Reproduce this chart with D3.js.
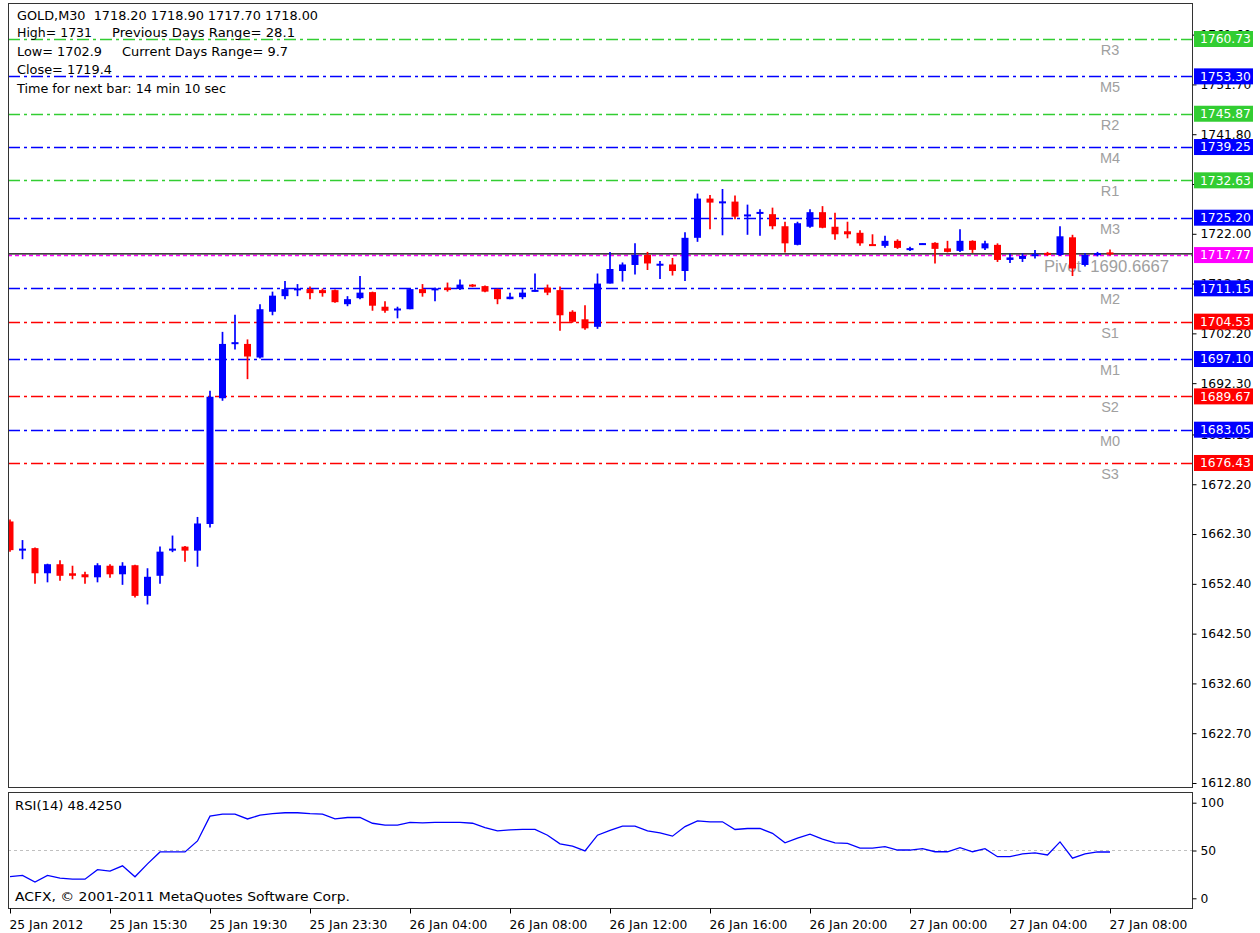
<!DOCTYPE html>
<html><head><meta charset="utf-8">
<script src="https://cdn.jsdelivr.net/npm/d3@7"></script>
<style>
body{margin:0;background:#fff;}
svg{display:block;}
</style>
</head><body>
<svg id="chart" width="1260" height="933"></svg>
<script>
// ---------- DATA ----------
const barOpen  = [1664.8,1659.0,1659.5,1654.5,1656.3,1654.5,1654.3,1653.7,1656.0,1654.3,
                  1656.1,1650.0,1654.0,1659.0,1659.8,1659.0,1664.3,1689.3,1700.1,1700.1,
                  1697.4,1706.5,1709.6,1710.9,1711.0,1710.8,1710.8,1708.0,1709.2,1710.4,
                  1707.5,1706.9,1707.0,1711.0,1710.9,1711.3,1711.0,1711.9,1711.6,1711.0,
                  1709.0,1709.4,1710.6,1711.3,1710.8,1706.5,1705.0,1703.5,1712.1,1714.6,
                  1715.8,1717.8,1715.8,1715.9,1714.6,1721.2,1729.0,1728.2,1728.4,1725.6,
                  1726.1,1725.9,1723.5,1719.8,1723.4,1726.3,1723.4,1722.5,1722.2,1719.9,
                  1719.6,1720.6,1718.9,1719.9,1720.2,1719.1,1718.6,1720.6,1719.1,1719.8,
                  1716.8,1717.0,1717.7,1718.2,1717.8,1721.3,1715.8,1717.9,1718.2];
const barHigh  = [1665.2,1661.1,1659.6,1656.4,1657.1,1656.0,1654.8,1656.5,1656.3,1656.7,
                  1656.2,1655.5,1659.8,1662.0,1659.9,1665.7,1690.8,1702.5,1705.9,1701.0,
                  1708.0,1710.5,1712.6,1712.0,1711.5,1711.1,1710.9,1709.6,1713.6,1710.5,
                  1708.6,1707.5,1711.0,1712.0,1711.3,1712.3,1712.9,1712.0,1711.7,1711.1,
                  1710.3,1711.0,1714.1,1711.9,1711.5,1706.8,1707.8,1714.1,1718.4,1716.3,
                  1720.1,1718.4,1716.6,1717.2,1722.3,1730.0,1729.7,1730.9,1729.6,1727.8,
                  1726.9,1727.2,1724.4,1724.4,1726.9,1727.5,1726.2,1724.4,1722.7,1721.9,
                  1721.6,1720.9,1719.4,1720.1,1720.3,1720.6,1722.9,1720.7,1720.6,1720.1,
                  1718.1,1718.1,1718.8,1718.4,1723.5,1721.8,1718.2,1718.4,1718.9];
const barLow   = [1658.8,1657.3,1652.4,1652.7,1653.0,1653.3,1652.4,1652.7,1653.6,1652.2,
                  1649.7,1648.3,1652.4,1658.7,1656.8,1655.8,1663.6,1688.8,1699.0,1693.1,
                  1697.2,1705.8,1709.0,1709.6,1709.0,1709.5,1708.3,1707.6,1709.0,1706.7,
                  1706.3,1705.2,1707.0,1709.5,1708.6,1710.5,1710.8,1711.4,1710.4,1708.0,
                  1709.0,1709.0,1710.5,1709.8,1702.7,1704.3,1702.9,1703.1,1712.1,1712.5,
                  1713.9,1714.8,1713.0,1713.7,1712.6,1720.4,1722.9,1721.7,1724.9,1721.8,
                  1721.6,1722.9,1718.3,1719.7,1723.2,1723.1,1720.8,1721.1,1719.6,1719.6,
                  1719.2,1719.0,1718.6,1719.9,1716.1,1718.3,1718.4,1718.2,1718.8,1716.4,
                  1716.2,1716.4,1717.1,1717.6,1717.6,1713.6,1715.5,1717.5,1717.7];
const barClose = [1659.1,1659.4,1654.5,1656.3,1654.0,1654.0,1653.7,1656.1,1654.3,1656.0,
                  1650.0,1653.8,1658.8,1659.4,1659.0,1664.4,1689.6,1700.1,1700.4,1697.6,
                  1707.0,1709.7,1711.0,1711.0,1710.2,1710.2,1708.4,1709.0,1710.3,1707.7,
                  1706.7,1707.0,1711.0,1710.2,1711.0,1710.8,1711.9,1711.5,1710.5,1709.0,
                  1709.5,1710.3,1710.7,1710.3,1705.8,1704.5,1703.2,1712.1,1715.0,1715.9,
                  1717.8,1716.1,1715.9,1714.6,1721.2,1729.0,1728.2,1728.3,1725.4,1725.7,
                  1726.2,1723.5,1720.1,1724.1,1726.3,1723.2,1721.9,1721.9,1720.1,1719.6,
                  1720.6,1719.2,1719.0,1720.0,1719.0,1718.4,1720.6,1718.8,1720.1,1716.8,
                  1717.3,1717.6,1717.8,1717.8,1721.5,1715.1,1717.8,1718.0,1718.0];
const rsiValues = [22.6,24,17,24,21,20,20,30,28.5,34,
                   22.5,36,48.5,48.5,48.5,60,86,88,88,83,
                   87,88.5,89.5,89.5,88.5,88,83,84.5,84.5,78.5,
                   76.5,76.5,79.5,79,79.5,79.5,79.5,78.5,74,70.5,
                   71.5,72,72,66,57,54.5,49.5,66,71,75.5,
                   75.5,70.5,68.5,65,75,81,80,80,72,73,
                   73,68,58,63,67,62,58,57.5,52.5,52.5,
                   54,50.5,50.5,52,48.7,48.7,53,48.7,52,43.5,
                   43.5,46.5,47.5,45.3,59,42,46.5,48.5,48.425];
const timeTickIndex  = [0,8,16,24,32,40,48,56,64,72,80,88];
const timeTickLabels = ["25 Jan 2012","25 Jan 15:30","25 Jan 19:30","25 Jan 23:30","26 Jan 04:00",
                        "26 Jan 08:00","26 Jan 12:00","26 Jan 16:00","26 Jan 20:00","27 Jan 00:00",
                        "27 Jan 04:00","27 Jan 08:00"];
const priceTickValues = [1612.80,1622.70,1632.60,1642.50,1652.40,1662.30,1672.20,1682.10,
                         1692.30,1702.20,1712.10,1722.00,1731.90,1741.80,1751.70,1761.60];
const levelNames  = ["R3","M5","R2","M4","R1","M3","Pivot","M2","S1","M1","S2","M0","S3"];
const levelValues = [1760.73,1753.30,1745.87,1739.25,1732.63,1725.20,1717.77,1711.15,1704.53,1697.10,1689.67,1683.05,1676.43];
const levelKinds  = ["R","M","R","M","R","M","P","M","S","M","S","M","S"];
const rsiTickValues = [100,50,0];
const infoLines = ["GOLD,M30  1718.20 1718.90 1717.70 1718.00","High= 1731","Low= 1702.9","Close= 1719.4","Time for next bar: 14 min 10 sec"];
const infoRight = ["","Previous Days Range= 28.1","Current Days Range= 9.7","",""];
const pivotText = "Pivot  1690.6667";
const lastPrice = 1718.00;
const rsiTitle = "RSI(14) 48.4250";
const copyright = "ACFX, \u00A9 2001-2011 MetaQuotes Software Corp.";

// ---------- LAYOUT ----------
const svg = d3.select("#chart");
const FONT = "DejaVu Sans, Verdana, sans-serif";
const main = {l:8, r:1192, t:3, b:787};
const sub  = {l:8, r:1192, t:792, b:908};
const kindColor = {R:"#32cd32", M:"#0000ff", S:"#ff0000", P:"#ff00ff"};

const x = d3.scaleLinear().domain([0, 88]).range([10, 1110]);
const y = d3.scaleLinear().domain([1612.80, 1760.73]).range([783, 39]);
const yr = d3.scaleLinear().domain([0, 100]).range([898.3, 802.7]);

svg.append("rect").attr("width",1260).attr("height",933).attr("fill","#fff");

const defs = svg.append("defs");
defs.append("clipPath").attr("id","clipMain").append("rect")
  .attr("x",main.l).attr("y",main.t).attr("width",main.r-main.l).attr("height",main.b-main.t);
defs.append("clipPath").attr("id","clipSub").append("rect")
  .attr("x",sub.l).attr("y",sub.t).attr("width",sub.r-sub.l).attr("height",sub.b-sub.t);

// helper: text fitted to a measured width
function fitText(sel, w){
  sel.attr("textLength", w).attr("lengthAdjust","spacingAndGlyphs");
  return sel;
}

// ---------- MAIN PANEL ----------
const gm = svg.append("g").attr("clip-path","url(#clipMain)");

// level lines
levelValues.forEach((v,i)=>{
  const k = levelKinds[i];
  gm.append("line")
    .attr("x1",main.l).attr("x2",main.r+4)
    .attr("y1",Math.round(y(v))+0.5).attr("y2",Math.round(y(v))+0.5)
    .attr("stroke",kindColor[k]).attr("stroke-width",1.3)
    .attr("stroke-dasharray", k==="P" ? "4,3" : "12,4,3,4");
});
// level labels
levelValues.forEach((v,i)=>{
  if (levelKinds[i]==="P") return;
  gm.append("text").attr("x",1110).attr("y",y(v)+16)
    .attr("text-anchor","middle")
    .attr("font-family","Liberation Sans, Arial, sans-serif").attr("font-size",14.5)
    .attr("fill","#a0a0a0").text(levelNames[i]);
});
fitText(gm.append("text").attr("x",1044).attr("y",y(levelValues[6])+17)
  .attr("font-family","Liberation Sans, Arial, sans-serif").attr("font-size",16)
  .attr("fill","#a0a0a0").style("white-space","pre").text(pivotText), 125);

// current price line
gm.append("line").attr("x1",main.l).attr("x2",main.r)
  .attr("y1",y(lastPrice)).attr("y2",y(lastPrice))
  .attr("stroke","#000").attr("stroke-width",1.3);

// candles
const bars = d3.range(barOpen.length).map(i=>({i,o:barOpen[i],h:barHigh[i],l:barLow[i],c:barClose[i]}));
const cg = gm.append("g");
const BW = 7;
bars.forEach(d=>{
  const col = d.c >= d.o ? "#0000ff" : "#ff0000";
  const cx = x(d.i);
  cg.append("line").attr("x1",cx).attr("x2",cx).attr("y1",y(d.h)).attr("y2",y(d.l))
    .attr("stroke",col).attr("stroke-width",1.7);
  const top = Math.min(y(d.o), y(d.c));
  const hgt = Math.max(2, Math.abs(y(d.o)-y(d.c)));
  cg.append("rect").attr("x",cx-BW/2).attr("y", hgt===2 ? (y(d.o)+y(d.c))/2-1 : top)
    .attr("width",BW).attr("height",hgt).attr("fill",col);
});

// info texts (widths as measured in the reference)
const infoY = [20,37,56,74,93];
const infoW = [301,75,85,95,209];
const infoRightW = [0,183,166,0,0];
infoLines.forEach((t,i)=>{
  fitText(svg.append("text").attr("x",17).attr("y",infoY[i]).attr("font-family",FONT).attr("font-size",12.6)
    .attr("fill","#000").style("white-space","pre").text(t), infoW[i]);
  if (infoRight[i]) fitText(svg.append("text").attr("x", i===1?112:122).attr("y",infoY[i])
    .attr("font-family",FONT).attr("font-size",12.6).attr("fill","#000").text(infoRight[i]), infoRightW[i]);
});

// main border
svg.append("rect").attr("x",main.l+0.5).attr("y",main.t+0.5)
  .attr("width",main.r-main.l).attr("height",main.b-main.t)
  .attr("fill","none").attr("stroke","#333").attr("stroke-width",1);

// price axis
const pAxis = d3.axisRight(y).tickValues(priceTickValues).tickSize(4).tickPadding(4)
  .tickFormat(d=>d.toFixed(2));
const pa = svg.append("g").attr("transform",`translate(${main.r+0.5},0)`).call(pAxis);
pa.select(".domain").remove();
pa.selectAll("text").attr("font-family",FONT).attr("font-size",12.3).attr("fill","#000");
pa.selectAll("line").attr("stroke","#000");

// level value boxes
levelValues.forEach((v,i)=>{
  const k = levelKinds[i];
  const g = svg.append("g");
  g.append("rect").attr("x",1194).attr("y",y(v)-8).attr("width",59).attr("height",16)
    .attr("fill",kindColor[k]);
  g.append("text").attr("x",1200).attr("y",y(v)).attr("dy","0.36em")
    .attr("font-family",FONT).attr("font-size",12.3).attr("fill","#fff").text(v.toFixed(2));
});

// ---------- RSI PANEL ----------
const gs = svg.append("g").attr("clip-path","url(#clipSub)");
gs.append("line").attr("x1",sub.l).attr("x2",sub.r).attr("y1",yr(50)).attr("y2",yr(50))
  .attr("stroke","#c0c0c0").attr("stroke-dasharray","3,3");
gs.append("path").datum(rsiValues)
  .attr("d", d3.line().x((d,i)=>x(i)).y(d=>yr(d)))
  .attr("fill","none").attr("stroke","#0000ff").attr("stroke-width",1.3);
fitText(svg.append("text").attr("x",15).attr("y",810).attr("font-family",FONT).attr("font-size",12.6)
  .attr("fill","#000").text(rsiTitle), 107);
fitText(svg.append("text").attr("x",15).attr("y",901).attr("font-family",FONT).attr("font-size",12.6)
  .attr("fill","#000").text(copyright), 335);
svg.append("rect").attr("x",sub.l+0.5).attr("y",sub.t+0.5)
  .attr("width",sub.r-sub.l).attr("height",sub.b-sub.t)
  .attr("fill","none").attr("stroke","#333").attr("stroke-width",1);

const rAxis = d3.axisRight(yr).tickValues(rsiTickValues).tickSize(4).tickPadding(4);
const ra = svg.append("g").attr("transform",`translate(${sub.r+0.5},0)`).call(rAxis);
ra.select(".domain").remove();
ra.selectAll("text").attr("font-family",FONT).attr("font-size",12.3).attr("fill","#000");
ra.selectAll("line").attr("stroke","#000");

// time axis
const tAxis = d3.axisBottom(x).tickValues(timeTickIndex).tickSize(5).tickPadding(4)
  .tickFormat((d,i)=>timeTickLabels[i]);
const ta = svg.append("g").attr("transform",`translate(0,${sub.b+0.5})`).call(tAxis);
ta.select(".domain").remove();
ta.selectAll("text").attr("font-family",FONT).attr("font-size",12.3).attr("fill","#000")
  .attr("text-anchor","start").attr("x",-1).attr("dy","0.9em");
ta.selectAll("line").attr("stroke","#000");
</script>
</body></html>
